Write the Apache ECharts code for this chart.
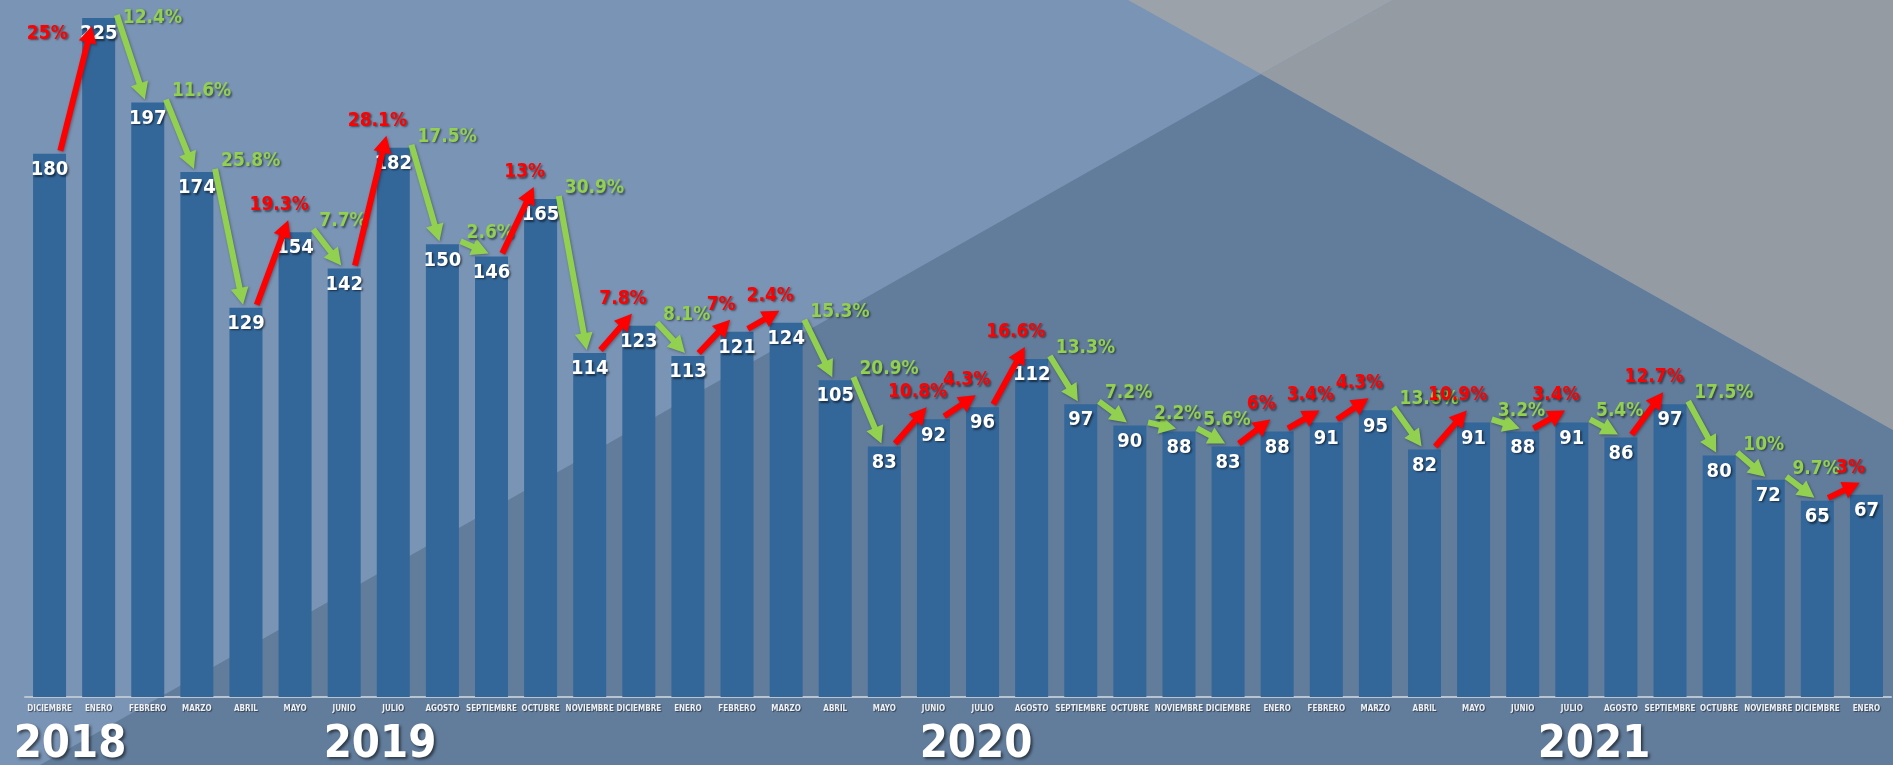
<!DOCTYPE html>
<html>
<head>
<meta charset="utf-8">
<script src="https://cdn.jsdelivr.net/npm/echarts@6.0.0/dist/echarts.min.js"></script>
<style>
html, body { margin: 0; padding: 0; }
#main { width: 1893px; height: 765px; }
</style>
</head>
<body>
<div id="main"></div>
<script>
// meses (dic 2018 - ene 2022)
var meses = ['DICIEMBRE',
    'ENERO','FEBRERO','MARZO','ABRIL','MAYO','JUNIO','JULIO','AGOSTO','SEPTIEMBRE','OCTUBRE','NOVIEMBRE','DICIEMBRE',
    'ENERO','FEBRERO','MARZO','ABRIL','MAYO','JUNIO','JULIO','AGOSTO','SEPTIEMBRE','OCTUBRE','NOVIEMBRE','DICIEMBRE',
    'ENERO','FEBRERO','MARZO','ABRIL','MAYO','JUNIO','JULIO','AGOSTO','SEPTIEMBRE','OCTUBRE','NOVIEMBRE','DICIEMBRE',
    'ENERO'];

// casos por mes
var casos = [180,
    225, 197, 174, 129, 154, 142, 182, 150, 146, 165, 114, 123,
    113, 121, 124, 105, 83, 92, 96, 112, 97, 90, 88, 83,
    88, 91, 95, 82, 91, 88, 91, 86, 97, 80, 72, 65,
    67];

// variacion respecto al mes anterior
var variacion = ['25%',
    '12.4%','11.6%','25.8%','19.3%','7.7%','28.1%','17.5%','2.6%','13%','30.9%','7.8%','8.1%',
    '7%','2.4%','15.3%','20.9%','10.8%','4.3%','16.6%','13.3%','7.2%','2.2%','5.6%','6%',
    '3.4%','4.3%','13.6%','10.9%','3.2%','3.4%','5.4%','12.7%','17.5%','10%','9.7%','3%'];

var anios = ['2018', '2019', '2020', '2021'];

var FONT = "'DejaVu Sans Condensed', 'Liberation Sans Narrow', sans-serif";
var ROJO = '#ff0000';
var VERDE = '#92d050';

var flechas = [];
for (var i = 0; i < variacion.length; i++) {
    flechas.push([i, casos[i], casos[i + 1]]);
}

var myChart = echarts.init(document.getElementById('main'));

// fondo con diagonales
var fondo = [
    {type: 'rect', shape: {x: 0, y: 0, width: 1893, height: 765}, style: {fill: '#7a94b5'}},
    {type: 'polygon', shape: {points: [[40, 765], [1261, 74], [1893, 430], [1893, 765]]}, style: {fill: '#627d9c'}},
    {type: 'polygon', shape: {points: [[1128, 0], [1393, 0], [1261, 74]]}, style: {fill: '#9ca2aa'}},
    {type: 'polygon', shape: {points: [[1393, 0], [1893, 0], [1893, 430], [1261, 74]]}, style: {fill: '#959ba3'}}
];
fondo.forEach(function (g) { g.z = -10; g.silent = true; });

var centros = [70, 380, 976, 1594];
anios.forEach(function (a, k) {
    fondo.push({
        type: 'text', x: centros[k], y: 745, z: 10, silent: true,
        style: {
            text: a, fill: '#ffffff', font: 'bold 45px ' + FONT,
            align: 'center', verticalAlign: 'middle',
            textShadowColor: 'rgba(0,0,0,0.55)', textShadowBlur: 3, textShadowOffsetX: 2, textShadowOffsetY: 2
        }
    });
});

function dibujaFlecha(params, api) {
    var i = api.value(0), a = api.value(1), b = api.value(2);
    var txt = variacion[params.dataIndex];
    var paso = api.size([1, 0])[0];
    var p0 = api.coord([i, a]);
    var p1 = api.coord([i + 1, b]);
    var sube = b > a;
    var s, e;
    if (sube) {
        s = [p0[0] + 0.22 * paso, p0[1] - 3];
        e = [p1[0] - 0.14 * paso, Math.max(p1[1] - 12, 26)];
    } else {
        s = [p0[0] + 0.37 * paso, p0[1] - 3];
        e = [p1[0] - 0.06 * paso, p1[1] - 3];
    }
    var dx = e[0] - s[0], dy = e[1] - s[1];
    var len = Math.sqrt(dx * dx + dy * dy);
    var ux = dx / len, uy = dy / len, nx = -uy, ny = ux;
    var cab = 17, ac = 9, gr = 3;
    var bx = e[0] - ux * cab, by = e[1] - uy * cab;
    var color = sube ? ROJO : VERDE;
    var pts = [
        [s[0] + nx * gr, s[1] + ny * gr], [bx + nx * gr, by + ny * gr], [bx + nx * ac, by + ny * ac],
        e,
        [bx - nx * ac, by - ny * ac], [bx - nx * gr, by - ny * gr], [s[0] - nx * gr, s[1] - ny * gr]
    ];
    var et;
    if (sube) {
        et = {x: e[0] - 9, y: e[1] - 15, align: 'center'};
        if (et.y < 16) {
            et = {x: e[0] - 24, y: e[1] + 8, align: 'right'};
        }
    } else {
        et = {x: s[0] + 6, y: Math.max(s[1] - 8, 18), align: 'left'};
    }
    return {
        type: 'group',
        children: [
            {
                type: 'polygon', shape: {points: pts},
                style: {fill: color, shadowBlur: 3, shadowColor: 'rgba(0,0,0,0.35)', shadowOffsetX: 1, shadowOffsetY: 1}
            },
            {
                type: 'text', x: et.x, y: et.y,
                style: {
                    text: txt, fill: color, font: 'bold 19px ' + FONT,
                    align: et.align, verticalAlign: 'middle',
                    textShadowColor: 'rgba(0,0,0,0.5)', textShadowBlur: 2, textShadowOffsetX: 1.5, textShadowOffsetY: 1.5
                }
            }
        ]
    };
}

var option = {
    animation: false,
    backgroundColor: '#7a94b5',
    graphic: fondo,
    grid: {left: 25, right: 2, top: 18, bottom: 68},
    xAxis: {
        type: 'category',
        data: meses,
        axisTick: {show: false},
        axisLine: {lineStyle: {color: '#b9c4d2', width: 2}},
        axisLabel: {
            interval: 0, margin: 8, color: '#eef1f5', fontFamily: FONT, fontWeight: 'bold', fontSize: 8,
            textShadowColor: 'rgba(0,0,0,0.5)', textShadowBlur: 1, textShadowOffsetX: 1, textShadowOffsetY: 1
        }
    },
    yAxis: {type: 'value', min: 0, max: 225, show: false},
    series: [
        {
            name: 'Casos',
            type: 'bar',
            data: casos,
            barWidth: 33,
            itemStyle: {color: '#336699'},
            label: {
                show: true, position: 'insideTop', distance: 6,
                color: '#ffffff', fontFamily: FONT, fontWeight: 'bold', fontSize: 20,
                textShadowColor: 'rgba(0,0,0,0.55)', textShadowBlur: 2, textShadowOffsetX: 1.5, textShadowOffsetY: 1.5
            }
        },
        {
            name: 'Variacion',
            type: 'custom',
            data: flechas,
            encode: {x: 0, y: 1},
            renderItem: dibujaFlecha,
            z: 5
        }
    ]
};

myChart.setOption(option);
</script>
</body>
</html>
